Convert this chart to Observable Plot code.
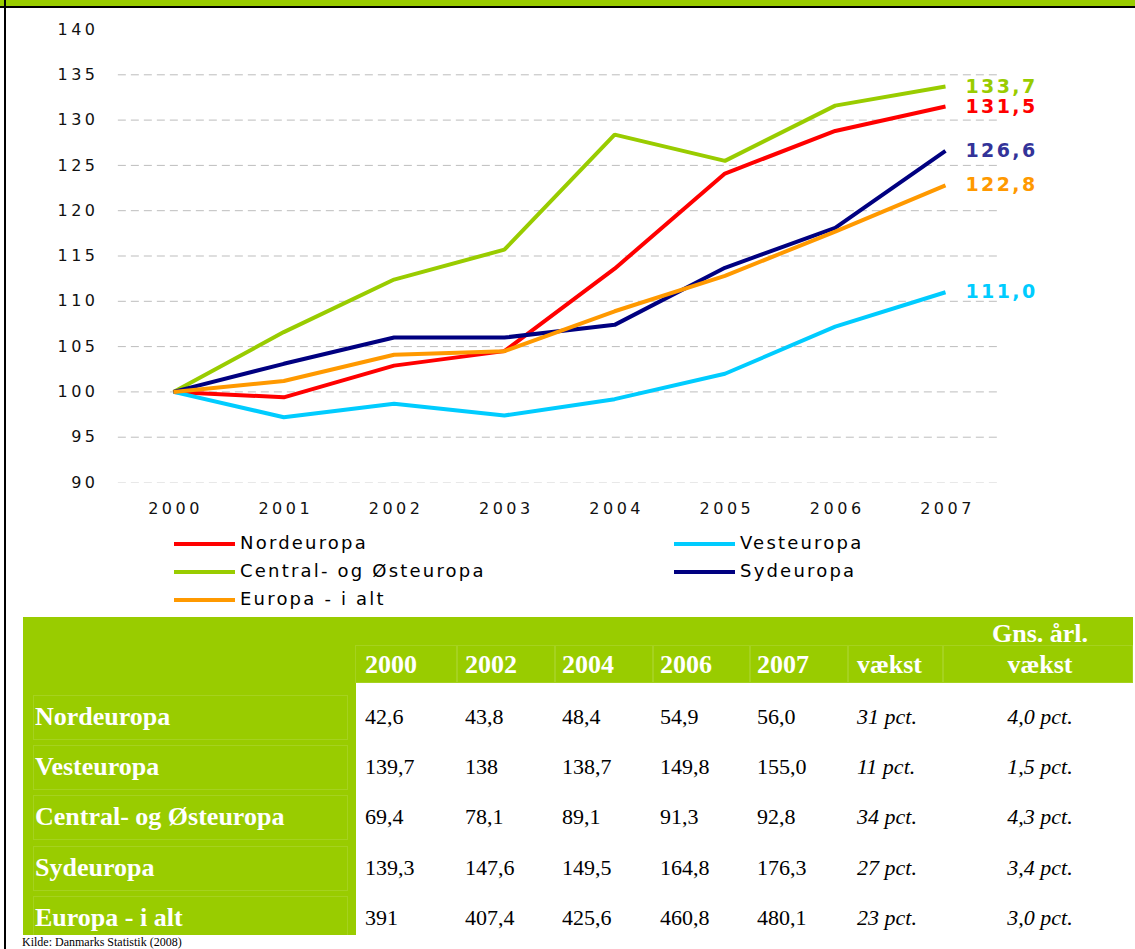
<!DOCTYPE html>
<html>
<head>
<meta charset="utf-8">
<script src="https://cdn.jsdelivr.net/npm/d3@7"></script>
<script src="https://cdn.jsdelivr.net/npm/@observablehq/plot@0.6"></script>
<style>
  html, body { margin: 0; padding: 0; background: #fff; }
  #page { position: relative; width: 1135px; height: 949px; overflow: hidden; background: #fff; }
  #topbar { position: absolute; left: 0; top: 0; width: 1135px; height: 6px; background: #99CC00; z-index: 5; }
  #topline { position: absolute; left: 0; top: 6px; width: 1135px; height: 2px; background: #000; z-index: 5; }
  #leftline { position: absolute; left: 4px; top: 0; width: 2px; height: 949px; background: #000; z-index: 5; }
  #chart { position: absolute; left: 0; top: 0; }
  .leg { position: absolute; font-family: "DejaVu Sans", sans-serif; font-size: 18px; letter-spacing: 2.2px; color: #000; line-height: 20px; }
  .sw { position: absolute; height: 4px; width: 61px; }
  .green { position: absolute; background: #99CC00; }
  .cell { position: absolute; font-family: "Liberation Serif", "Times New Roman", serif; white-space: nowrap; line-height: 1; }
  .hdr { color: #fff; font-weight: bold; font-size: 26px; }
  .lbl { color: #fff; font-weight: bold; font-size: 26px; }
  .val { color: #000; font-size: 22px; }
  .ital { font-style: italic; }
  .bord { position: absolute; border: 1px solid rgba(255,255,255,0.12); box-sizing: border-box; }
  #kilde { position: absolute; left: 22px; top: 936px; font-family: "Liberation Serif", serif; font-size: 12px; color: #000; line-height: 12px; }
</style>
</head>
<body>
<div id="page">
  <div id="chart"></div>
  <div id="topbar"></div>
  <div id="topline"></div>
  <div id="leftline"></div>
  <div id="legend"></div>
  <div id="table"></div>
  <div id="kilde">Kilde: Danmarks Statistik (2008)</div>
</div>
<script>
// ---------- Data ----------
const years = [2000, 2001, 2002, 2003, 2004, 2005, 2006, 2007];
const seriesNames = ["Nordeuropa", "Vesteuropa", "Central- og Østeuropa", "Sydeuropa", "Europa - i alt"];
const nordeuropa = [100, 99.4, 102.9, 104.5, 113.6, 124.1, 128.8, 131.5];
const vesteuropa = [100, 97.2, 98.7, 97.4, 99.2, 102.0, 107.2, 111.0];
const centralOst = [100, 106.6, 112.4, 115.7, 128.4, 125.5, 131.6, 133.7];
const sydeuropa = [100, 103.1, 106.0, 106.0, 107.4, 113.7, 118.1, 126.6];
const europaIalt = [100, 101.2, 104.1, 104.5, 108.9, 112.8, 117.7, 122.8];
const lineColors = ["#FF0000", "#00CCFF", "#99CC00", "#000080", "#FF9900"];
const labelColors = ["#FF0000", "#00CCFF", "#99CC00", "#333399", "#FF9900"];
const yTicks = [90, 95, 100, 105, 110, 115, 120, 125, 130, 135, 140];
const gridTicks = [90, 95, 100, 105, 110, 115, 120, 125, 130, 135];

// Table data
const tableHeaders = ["2000", "2002", "2004", "2006", "2007", "vækst"];
const growthHeader = ["Gns. årl.", "vækst"];
const col2000 = ["42,6", "139,7", "69,4", "139,3", "391"];
const col2002 = ["43,8", "138", "78,1", "147,6", "407,4"];
const col2004 = ["48,4", "138,7", "89,1", "149,5", "425,6"];
const col2006 = ["54,9", "149,8", "91,3", "164,8", "460,8"];
const col2007 = ["56,0", "155,0", "92,8", "176,3", "480,1"];
const colVaekst = ["31 pct.", "11 pct.", "34 pct.", "27 pct.", "23 pct."];
const colAarlig = ["4,0 pct.", "1,5 pct.", "4,3 pct.", "3,4 pct.", "3,0 pct."];

// ---------- Build long table ----------
const allSeries = [nordeuropa, vesteuropa, centralOst, sydeuropa, europaIalt];
const rows = [];
allSeries.forEach((vals, si) => {
  vals.forEach((v, i) => rows.push({series: seriesNames[si], year: years[i], value: v}));
});
const lastPoints = allSeries.map((vals, si) => ({series: seriesNames[si], year: years[years.length - 1], value: vals[vals.length - 1], color: labelColors[si]}));
const fmt = v => v.toFixed(1).replace(".", ",");

const chart = Plot.plot({
  width: 1135,
  height: 530,
  marginLeft: 173,
  marginRight: 190,
  marginTop: 29,
  marginBottom: 48,
  style: {fontFamily: "DejaVu Sans, sans-serif", fontSize: "16px", letterSpacing: "3.5px", color: "#111", background: "transparent"},
  x: {type: "linear", domain: [2000, 2007]},
  y: {domain: [90, 140]},
  color: {domain: seriesNames, range: lineColors},
  marks: [
    Plot.ruleY(gridTicks, {x1: 1999.5, x2: 2007.48, stroke: "#bdbdbd", strokeWidth: 1, strokeDasharray: "8,5", strokeOpacity: d => d === 90 ? 0.35 : 1}),
    Plot.axisY({ticks: yTicks, tickSize: 0, tickPadding: 75, label: null, tickFormat: d => String(d)}),
    Plot.axisX({ticks: years, tickSize: 0, tickPadding: 20, label: null, tickFormat: d => String(d), dx: 2}),
    Plot.line(rows, {x: "year", y: "value", z: "series", stroke: "series", strokeWidth: 4, strokeLinejoin: "miter", strokeLinecap: "butt"}),
    Plot.text(lastPoints, {x: "year", y: "value", text: d => fmt(d.value), fill: d => d.color, textAnchor: "start", dx: 20, fontSize: 19, fontWeight: "bold"})
  ]
});
document.getElementById("chart").appendChild(chart);
d3.select(chart).selectAll('g[aria-label="text"] text').style("letter-spacing", "2.4px");

// ---------- Legend ----------
const legend = document.getElementById("legend");
const legendPos = [
  {x: 174, y: 544}, {x: 674, y: 544},
  {x: 174, y: 572}, {x: 674, y: 572},
  {x: 174, y: 600}
];
seriesNames.forEach((name, i) => {
  const p = legendPos[i];
  const sw = document.createElement("div");
  sw.className = "sw";
  sw.style.left = p.x + "px";
  sw.style.top = (p.y - 2) + "px";
  sw.style.background = lineColors[i];
  legend.appendChild(sw);
  const t = document.createElement("div");
  t.className = "leg";
  t.textContent = name;
  t.style.left = (p.x + 66) + "px";
  t.style.top = (p.y - 11) + "px";
  legend.appendChild(t);
});

// ---------- Table ----------
const table = document.getElementById("table");
function box(cls, l, t, w, h) {
  const d = document.createElement("div");
  d.className = cls;
  d.style.left = l + "px"; d.style.top = t + "px";
  d.style.width = w + "px"; d.style.height = h + "px";
  table.appendChild(d);
  return d;
}
function txt(cls, s, l, cy, size, anchor) {
  const d = document.createElement("div");
  d.className = "cell " + cls;
  d.textContent = s;
  d.style.top = (cy - size * 0.5) + "px";
  d.style.fontSize = size + "px";
  if (anchor === "center") {
    d.style.left = (l - 150) + "px"; d.style.width = "300px"; d.style.textAlign = "center";
  } else {
    d.style.left = l + "px";
  }
  table.appendChild(d);
}
box("green", 23, 617, 1110, 66);
box("green", 23, 683, 333, 252);
// faint cell borders
const colX = [355, 457, 555, 653, 750, 848, 943, 1133];
for (let i = 0; i < colX.length - 1; i++) box("bord", colX[i], 645, colX[i + 1] - colX[i], 38);
const rowY = [717, 767, 817, 868, 918];
rowY.forEach(y => box("bord", 33, y - 22, 315, 45));

const hdrX = [365, 465, 562, 660, 757, 857];
tableHeaders.forEach((h, i) => txt("hdr", h, hdrX[i], 665, 26));
txt("hdr", growthHeader[0], 1040, 634, 26, "center");
txt("hdr", growthHeader[1], 1040, 665, 26, "center");

const dataCols = [col2000, col2002, col2004, col2006, col2007];
seriesNames.forEach((name, r) => {
  txt("lbl", name, 35, rowY[r], 26);
  dataCols.forEach((col, c) => txt("val", col[r], hdrX[c], rowY[r], 22));
  txt("val ital", colVaekst[r], 857, rowY[r], 22);
  txt("val ital", colAarlig[r], 1040, rowY[r], 22, "center");
});
</script>
</body>
</html>
